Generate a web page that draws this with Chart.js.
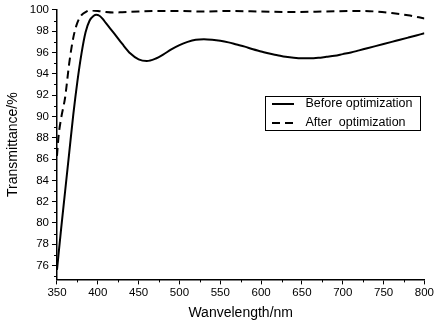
<!DOCTYPE html>
<html>
<head>
<meta charset="utf-8">
<script src="https://cdn.jsdelivr.net/npm/chart.js@4/dist/chart.umd.min.js"></script>
<style>
html,body{margin:0;padding:0;background:#fff;}
#c{display:block;}
</style>
</head>
<body>
<canvas id="c" width="436" height="326"></canvas>
<script>
// ---- data ----
const beforeWavelengths = [350,355,360,365,370,375,380,385,390,395,398,402,406,410,420,430,440,450,460,470,480,490,500,510,520,530,540,550,560,570,580,590,600,610,620,630,640,650,660,670,680,690,700,710,720,730,740,750,760,770,780,790,800];
const beforeValues = [75.6,79.4,83.0,86.6,90.2,93.3,95.9,97.9,99.0,99.45,99.55,99.45,99.15,98.75,97.8,96.8,95.9,95.35,95.2,95.4,95.8,96.3,96.7,97.0,97.2,97.25,97.2,97.1,96.95,96.75,96.55,96.3,96.1,95.9,95.75,95.6,95.5,95.45,95.45,95.5,95.6,95.7,95.85,96.0,96.2,96.4,96.6,96.8,97.0,97.2,97.4,97.6,97.8];
const afterWavelengths = [350,352,355,360,365,370,375,380,385,390,400,410,420,430,450,480,500,530,560,600,640,680,720,740,760,780,800];
const afterValues = [86.3,88.2,89.8,91.8,95.0,97.4,98.8,99.5,99.8,99.95,99.9,99.8,99.75,99.78,99.85,99.9,99.9,99.85,99.9,99.85,99.8,99.85,99.9,99.85,99.7,99.5,99.2];
const seriesLabels = ["Before optimization", "After  optimization"];
const xTickValues = [350,400,450,500,550,600,650,700,750,800];
const yTickValues = [76,78,80,82,84,86,88,90,92,94,96,98,100];
const xTitle = "Wanvelength/nm";
const yTitle = "Transmittance/%";

const FONT = "Arial, 'Liberation Sans', sans-serif";

function pts(xs, ys){ return xs.map((x,i)=>({x:x, y:ys[i]})); }

const minorTicks = {
  id: 'minorTicks',
  afterDraw(chart){
    const ctx = chart.ctx, xs = chart.scales.x, ys = chart.scales.y;
    ctx.save();
    ctx.strokeStyle = '#000';
    ctx.lineWidth = 1;
    ctx.beginPath();
    for (let i=0;i<xTickValues.length-1;i++){
      const v = (xTickValues[i]+xTickValues[i+1])/2;
      const p = Math.round(xs.getPixelForValue(v))+0.5;
      ctx.moveTo(p, ys.bottom); ctx.lineTo(p, ys.bottom+3);
    }
    for (let i=0;i<yTickValues.length-1;i++){
      const v = (yTickValues[i]+yTickValues[i+1])/2;
      const p = Math.round(ys.getPixelForValue(v))+0.5;
      ctx.moveTo(xs.left, p); ctx.lineTo(xs.left-3, p);
    }
    {
      const v = yTickValues[0]-1;
      if (v >= ys.min){
        const p = Math.round(ys.getPixelForValue(v))+0.5;
        ctx.moveTo(xs.left, p); ctx.lineTo(xs.left-3, p);
      }
    }
    ctx.stroke();
    ctx.restore();
  }
};

const boxLegend = {
  id: 'boxLegend',
  afterDraw(chart){
    const ctx = chart.ctx;
    const bx = 265.5, by = 96.5, bw = 155, bh = 34;
    ctx.save();
    ctx.fillStyle = '#fff';
    ctx.fillRect(bx, by, bw, bh);
    ctx.strokeStyle = '#000';
    ctx.lineWidth = 1;
    ctx.strokeRect(bx, by, bw, bh);
    ctx.font = "12.5px " + FONT;
    ctx.fillStyle = '#000';
    ctx.textBaseline = 'middle';
    chart.data.datasets.forEach((ds, i) => {
      const y = by + 7.5 + i*19;
      ctx.beginPath();
      ctx.setLineDash(ds.borderDash || []);
      ctx.lineWidth = 2;
      ctx.moveTo(bx+6.5, y);
      ctx.lineTo(bx+28.5, y);
      ctx.stroke();
      ctx.setLineDash([]);
      ctx.fillText(ds.label, bx+40, y);
    });
    ctx.restore();
  }
};

new Chart(document.getElementById('c'), {
  type: 'line',
  data: {
    datasets: [
      { label: seriesLabels[0], data: pts(beforeWavelengths, beforeValues), borderColor: '#000', borderWidth: 2, pointRadius: 0, cubicInterpolationMode: 'monotone', fill: false },
      { label: seriesLabels[1], data: pts(afterWavelengths, afterValues), borderColor: '#000', borderWidth: 2, borderDash: [8,5], pointRadius: 0, cubicInterpolationMode: 'monotone', fill: false }
    ]
  },
  options: {
    responsive: false,
    animation: false,
    layout: { padding: { left: 5, top: 2, right: 5, bottom: 4 } },
    plugins: { legend: { display: false }, tooltip: { enabled: false } },
    scales: {
      x: {
        type: 'linear', min: 350, max: 800,
        afterBuildTicks: (s) => { s.ticks = xTickValues.map(v => ({value: v})); },
        grid: { drawOnChartArea: false, drawTicks: true, tickLength: 5, color: '#000', tickWidth: 1 },
        border: { color: '#000', width: 1.5 },
        ticks: { color: '#000', font: { size: 11.5, family: FONT }, padding: 2, maxRotation: 0 },
        title: { display: true, text: xTitle, color: '#000', font: { size: 14, family: FONT }, padding: { top: 3, bottom: 0 } }
      },
      y: {
        type: 'linear', min: 74.7, max: 100,
        afterBuildTicks: (s) => { s.ticks = yTickValues.map(v => ({value: v})); },
        grid: { drawOnChartArea: false, drawTicks: true, tickLength: 5, color: '#000', tickWidth: 1 },
        border: { color: '#000', width: 1.5 },
        ticks: { color: '#000', font: { size: 11.5, family: FONT }, padding: 3 },
        title: { display: true, text: yTitle, color: '#000', font: { size: 14, family: FONT }, padding: { top: 0, bottom: 5 } }
      }
    }
  },
  plugins: [minorTicks, boxLegend]
});
</script>
</body>
</html>
